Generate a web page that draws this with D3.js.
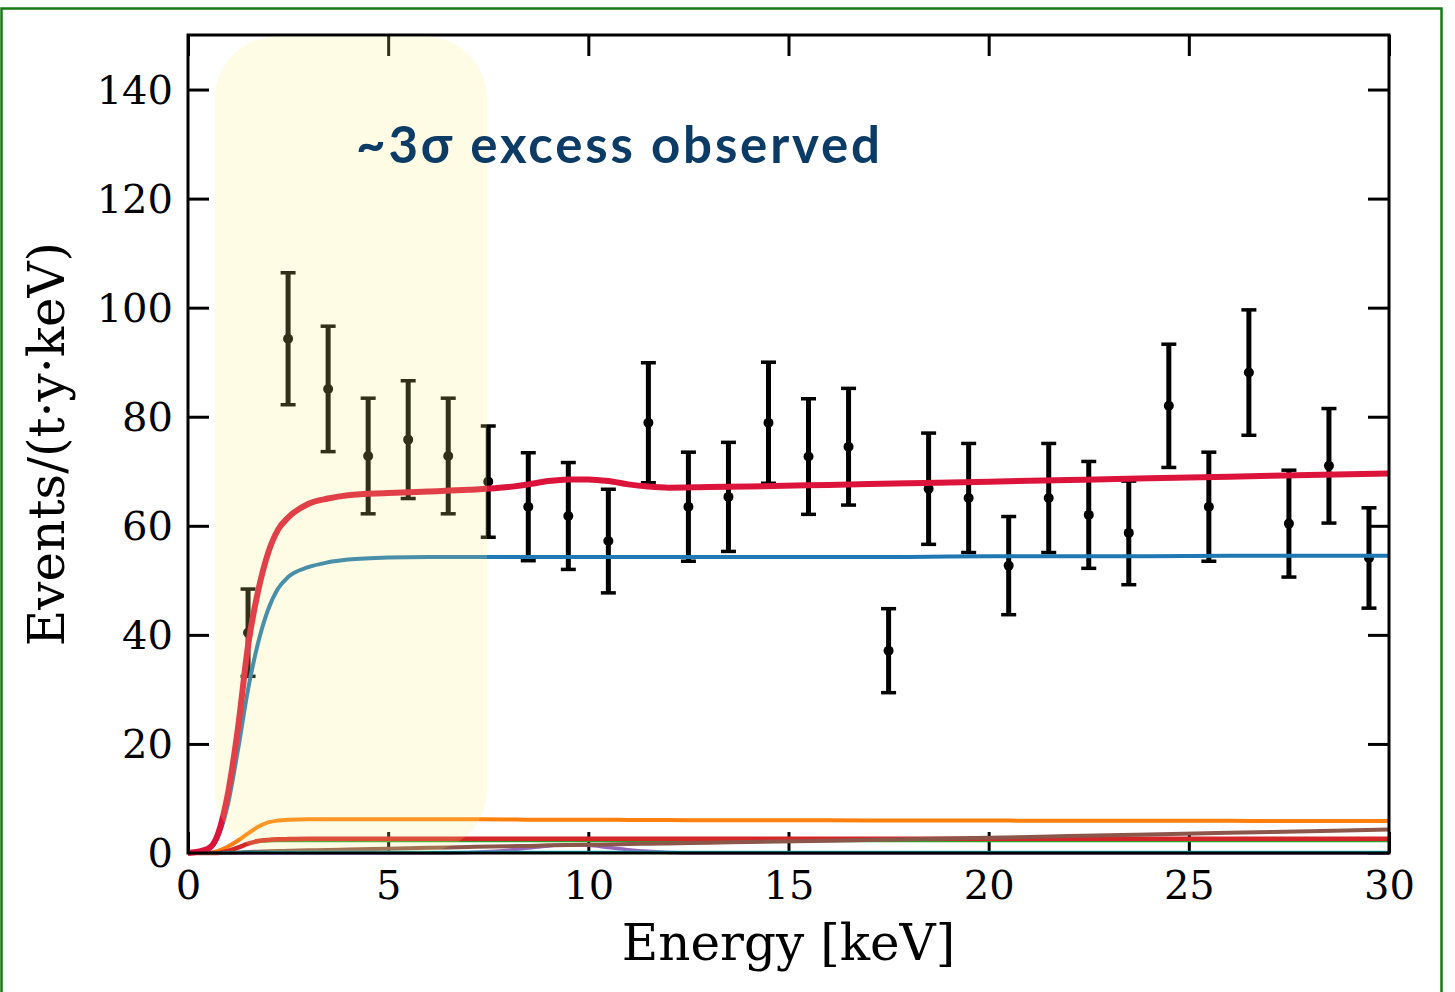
<!DOCTYPE html>
<html>
<head>
<meta charset="utf-8">
<script src="https://cdnjs.cloudflare.com/ajax/libs/d3/7.8.5/d3.min.js"></script>
<style>
  body { margin: 0; background: #fff; }
  svg { display: block; }
</style>
</head>
<body>
<div id="chart"></div>
<script>
// measured spectrum, 1 keV bins
var binCenters = [1.5, 2.5, 3.5, 4.5, 5.5, 6.5, 7.5, 8.5, 9.5, 10.5, 11.5, 12.5, 13.5, 14.5, 15.5,
                  16.5, 17.5, 18.5, 19.5, 20.5, 21.5, 22.5, 23.5, 24.5, 25.5, 26.5, 27.5, 28.5, 29.5];
var rates = [40.4, 94.3, 85.1, 72.8, 75.8, 72.8, 68.1, 63.5, 61.8, 57.2, 78.9, 63.5, 65.3, 78.9, 72.7,
             74.5, 37.1, 66.8, 65.1, 52.7, 65.1, 62.0, 58.7, 82.0, 63.5, 88.1, 60.4, 71.0, 54.1];
var errors = [8.0, 12.1, 11.5, 10.6, 10.8, 10.6, 10.2, 9.9, 9.8, 9.5, 11.0, 10.0, 10.0, 11.1, 10.6,
              10.7, 7.7, 10.2, 10.0, 9.0, 10.0, 9.8, 9.5, 11.3, 10.0, 11.5, 9.8, 10.5, 9.2];

// model components, sampled on a common energy grid
var modelEnergy = [0, 0.5, 0.75, 1, 1.25, 1.5, 1.75, 2, 2.25, 2.5, 3, 3.5, 4, 5, 6, 7, 8, 8.5, 9, 9.5,
                   10, 10.5, 11, 11.5, 12, 13, 14, 16, 18, 20, 22, 24, 26, 28, 30];
var totalModel = [0, 0.8, 3.5, 11, 23, 38, 48, 55, 59.3, 61.5, 64, 65, 65.6, 66, 66.3, 66.6, 67.1, 67.6, 68.2, 68.5,
                  68.5, 68.2, 67.6, 67.2, 67, 67.1, 67.2, 67.5, 67.8, 68.1, 68.4, 68.7, 69, 69.3, 69.6];
var b0 = [0, 0.6, 3, 9, 19, 30, 38.5, 44.6, 48.5, 50.6, 52.4, 53.3, 53.8, 54.2, 54.3, 54.3, 54.3, 54.3, 54.3, 54.3,
          54.3, 54.3, 54.3, 54.3, 54.3, 54.3, 54.3, 54.3, 54.3, 54.4, 54.4, 54.4, 54.5, 54.5, 54.5];
var b1 = [0, 0, 0.4, 1.2, 2.3, 3.6, 4.8, 5.6, 5.95, 6.1, 6.2, 6.2, 6.2, 6.2, 6.2, 6.2, 6.15, 6.1, 6.1, 6.1,
          6.1, 6.1, 6.05, 6.05, 6.05, 6.0, 6.0, 6.0, 5.95, 5.95, 5.9, 5.9, 5.9, 5.85, 5.85];
var b2 = [0, 0, 0.1, 0.5, 1.1, 1.7, 2.0, 2.15, 2.2, 2.2, 2.2, 2.2, 2.2, 2.2, 2.2, 2.2, 2.2, 2.2, 2.2, 2.2,
          2.2, 2.2, 2.2, 2.2, 2.2, 2.2, 2.2, 2.2, 2.2, 2.2, 2.2, 2.2, 2.2, 2.2, 2.2];
var b3 = [0, 0, 0, 0.4, 1.0, 1.7, 2.2, 2.4, 2.5, 2.55, 2.6, 2.6, 2.6, 2.6, 2.6, 2.6, 2.6, 2.6, 2.6, 2.6,
          2.6, 2.6, 2.6, 2.6, 2.6, 2.6, 2.6, 2.6, 2.6, 2.6, 2.6, 2.6, 2.6, 2.6, 2.6];
var b4 = [0, 0, 0, 0, 0, 0, 0, 0, 0, 0, 0, 0, 0, 0, 0, 0.1, 0.5, 0.9, 1.3, 1.5,
          1.4, 1.0, 0.6, 0.3, 0.1, 0, 0, 0, 0, 0, 0, 0, 0, 0, 0];
var b5 = [0, 0, 0, 0.05, 0.1, 0.2, 0.25, 0.3, 0.35, 0.4, 0.5, 0.55, 0.65, 0.8, 0.95, 1.1, 1.25, 1.3, 1.4, 1.45,
          1.5, 1.55, 1.65, 1.7, 1.75, 1.9, 2.0, 2.25, 2.5, 2.8, 3.1, 3.4, 3.7, 4.0, 4.3];
var b6 = [0, 0, 0.05, 0.15, 0.2, 0.25, 0.25, 0.25, 0.25, 0.25, 0.25, 0.25, 0.25, 0.25, 0.25, 0.25, 0.25, 0.25, 0.25, 0.25,
          0.25, 0.25, 0.25, 0.25, 0.25, 0.25, 0.25, 0.25, 0.25, 0.25, 0.25, 0.25, 0.25, 0.25, 0.25];

var xTicks = [0, 5, 10, 15, 20, 25, 30];
var yTicks = [0, 20, 40, 60, 80, 100, 120, 140];
var excessRange = [0.67, 7.47];
var note = "~3σ excess observed";

var margin = {top: 35, right: 66, bottom: 139, left: 188},
    width = 1455 - margin.left - margin.right,
    height = 992 - margin.top - margin.bottom;

var svg = d3.select("#chart").append("svg")
    .attr("width", 1455)
    .attr("height", 992);

// outer green frame
svg.append("rect")
    .attr("x", 1.5).attr("y", 8.5)
    .attr("width", 1440).attr("height", 1000)
    .attr("fill", "none")
    .attr("stroke", "#177a17")
    .attr("stroke-width", 2.5);

var g = svg.append("g").attr("transform", "translate(" + margin.left + "," + margin.top + ")");

var x = d3.scaleLinear().domain([0, 30]).range([0, width]);
var y = d3.scaleLinear().domain([0, 150]).range([height, 0]);

var serif = "'DejaVu Serif', serif";

// ticks pointing inward on all four sides
function styleAxis(sel) {
  sel.select(".domain").remove();
  sel.selectAll(".tick line").attr("stroke", "#000").attr("stroke-width", 3);
  sel.selectAll(".tick text").attr("font-family", serif).attr("font-size", 40).attr("fill", "#000");
}

g.append("g")
    .attr("transform", "translate(0," + height + ")")
    .call(d3.axisBottom(x).tickValues(xTicks).tickSize(-21).tickPadding(12))
    .call(styleAxis)
    .selectAll(".tick text").attr("dy", "0.75em").attr("y", 16);

g.append("g")
    .call(d3.axisTop(x).tickValues(xTicks).tickSize(-21).tickFormat(""))
    .call(styleAxis);

g.append("g")
    .call(d3.axisLeft(y).tickValues(yTicks).tickSize(-21).tickPadding(14))
    .call(styleAxis)
    .selectAll(".tick text").attr("x", -15).attr("dy", "0.34em");

g.append("g")
    .attr("transform", "translate(" + width + ",0)")
    .call(d3.axisRight(y).tickValues(yTicks).tickSize(-21).tickFormat(""))
    .call(styleAxis);

// data points with error bars
var pts = binCenters.map(function(e, i) { return {e: e, v: rates[i], err: errors[i]}; });

var bars = g.append("g").selectAll("g")
    .data(pts)
    .enter().append("g");

bars.append("line")
    .attr("x1", function(d) { return x(d.e); })
    .attr("x2", function(d) { return x(d.e); })
    .attr("y1", function(d) { return y(d.v - d.err); })
    .attr("y2", function(d) { return y(d.v + d.err); })
    .attr("stroke", "#000").attr("stroke-width", 5);

[-1, 1].forEach(function(s) {
  bars.append("line")
      .attr("x1", function(d) { return x(d.e) - 7.5; })
      .attr("x2", function(d) { return x(d.e) + 7.5; })
      .attr("y1", function(d) { return y(d.v + s * d.err); })
      .attr("y2", function(d) { return y(d.v + s * d.err); })
      .attr("stroke", "#000").attr("stroke-width", 3.5);
});

bars.append("circle")
    .attr("cx", function(d) { return x(d.e); })
    .attr("cy", function(d) { return y(d.v); })
    .attr("r", 5)
    .attr("fill", "#000");

// model curves
var line = d3.line()
    .x(function(d, i) { return x(modelEnergy[i]); })
    .y(function(d) { return y(d); })
    .curve(d3.curveMonotoneX);

var curves = [
  {values: b0, color: "#1f77b4", w: 4},
  {values: b1, color: "#ff7f0e", w: 4},
  {values: b2, color: "#2ca02c", w: 2.5},
  {values: b3, color: "#d62728", w: 4.5},
  {values: b4, color: "#9467bd", w: 3.5},
  {values: b5, color: "#8c564b", w: 4},
  {values: b6, color: "#17becf", w: 2},
  {values: totalModel, color: "#dc143c", w: 6}
];

g.append("g").selectAll("path")
    .data(curves)
    .enter().append("path")
      .attr("d", function(d) { return line(d.values); })
      .attr("fill", "none")
      .attr("stroke", function(d) { return d.color; })
      .attr("stroke-width", function(d) { return d.w; })
      .attr("stroke-linejoin", "round");

// plot frame
g.append("rect")
    .attr("width", width).attr("height", height)
    .attr("fill", "none")
    .attr("stroke", "#000")
    .attr("stroke-width", 3);

// highlighted low-energy region, laid over the data
g.append("rect")
    .attr("x", x(excessRange[0]))
    .attr("y", 1.5)
    .attr("width", x(excessRange[1]) - x(excessRange[0]))
    .attr("height", height - 3)
    .attr("rx", 62)
    .attr("fill", "rgb(250,240,125)")
    .attr("opacity", 0.2);

g.append("text")
    .attr("x", 168)
    .attr("y", 128)
    .attr("font-family", "Lato, sans-serif")
    .attr("font-weight", "bold")
    .attr("font-size", 51)
    .attr("textLength", 524)
    .attr("lengthAdjust", "spacing")
    .attr("fill", "#0c3b66")
    .text(note);

// axis titles
svg.append("text")
    .attr("x", margin.left + width / 2)
    .attr("y", 960)
    .attr("text-anchor", "middle")
    .attr("font-family", serif)
    .attr("font-size", 50)
    .text("Energy [keV]");

svg.append("text")
    .attr("transform", "translate(64," + (margin.top + height / 2) + ") rotate(-90)")
    .attr("text-anchor", "middle")
    .attr("font-family", serif)
    .attr("font-size", 50)
    .text("Events/(t·y·keV)");
</script>
</body>
</html>
